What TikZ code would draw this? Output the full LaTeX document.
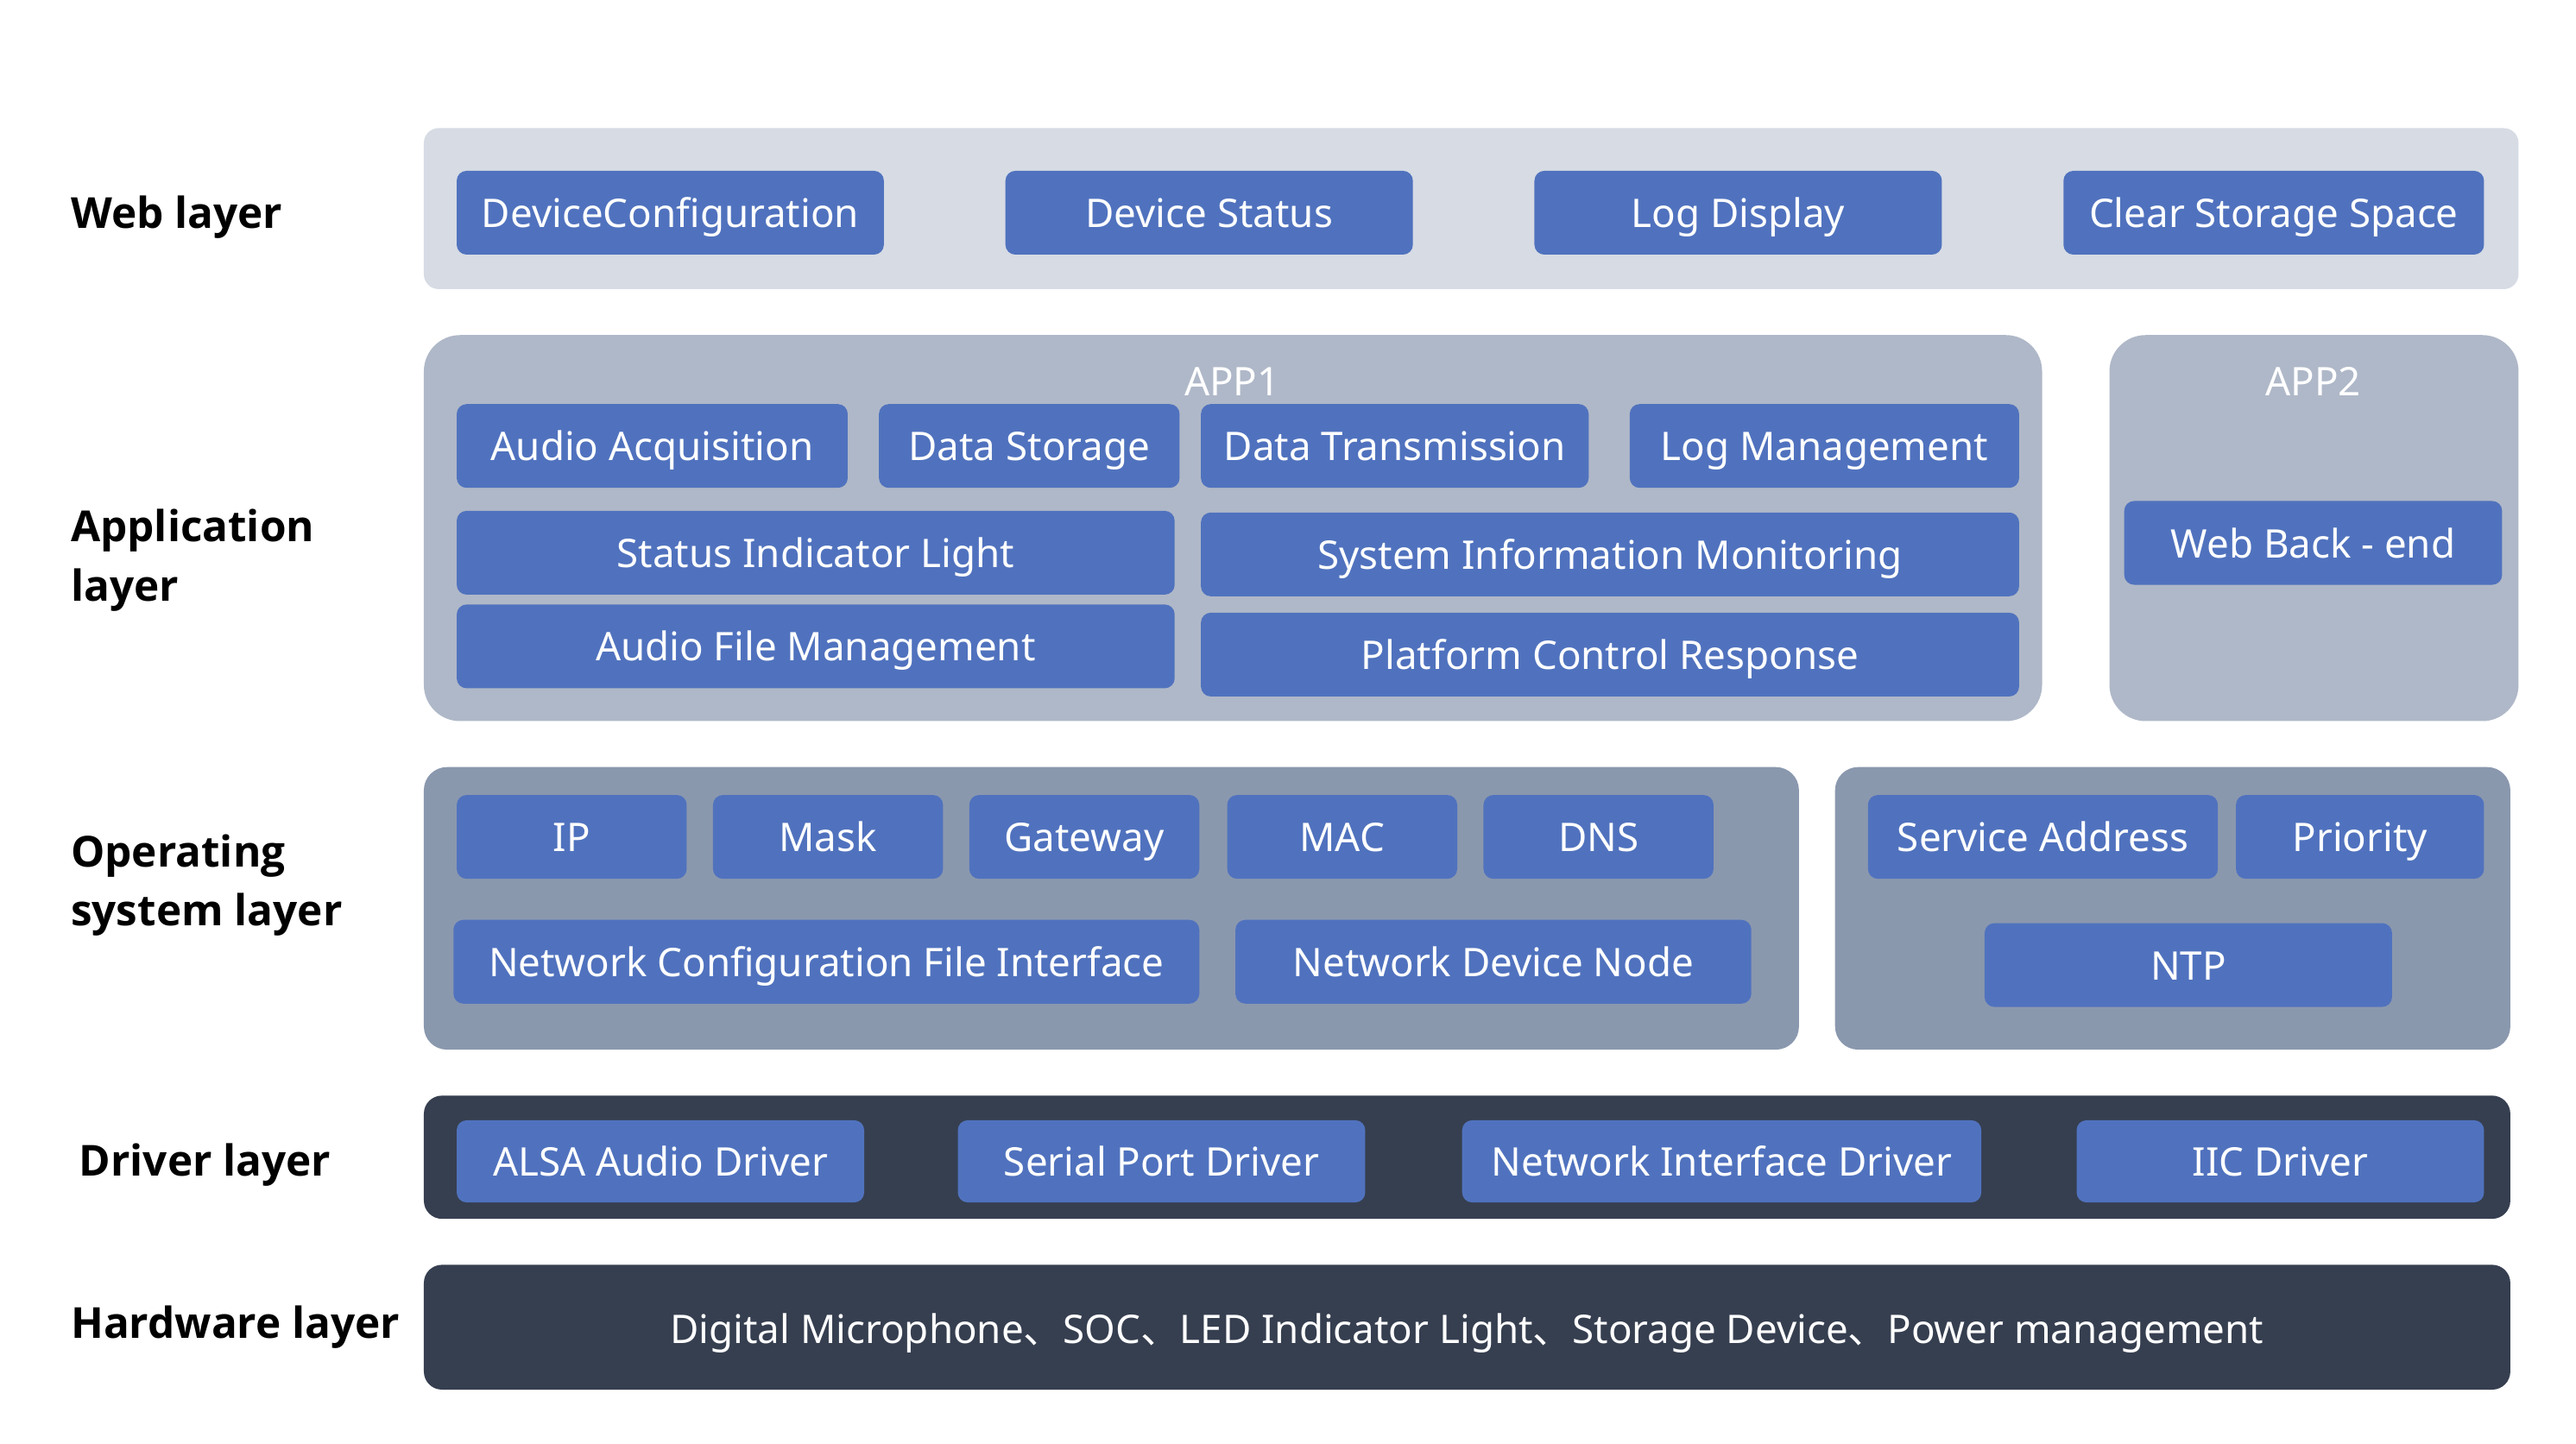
\documentclass[tikz,border=0pt]{standalone}
\usepackage{fontspec}
\setmainfont{Noto Sans}
\newfontfamily\lblfont{Open Sans}
\newfontfamily\cjk{Noto Sans CJK SC}
\definecolor{boxblue}{RGB}{80,114,190}
\definecolor{webbg}{RGB}{214,219,228}
\definecolor{appbg}{RGB}{175,184,200}
\definecolor{osbg}{RGB}{138,152,174}
\definecolor{darkbg}{RGB}{54,63,80}
\newcommand{\dun}{{\cjk 、}}

\begin{document}
\begin{tikzpicture}[x=1pt,y=-1pt,
	panel/.style={rectangle,inner sep=0pt},
	item/.style={rectangle,fill=boxblue,rounded corners=6pt,text=white,inner sep=0pt,
		minimum height=51pt,text height=20pt,text depth=2pt,font=\fontsize{24}{28}\selectfont},
	applabel/.style={text=white,inner sep=0pt,text height=20pt,text depth=2pt,font=\fontsize{24}{28}\selectfont},
	layer/.style={anchor=west,align=left,inner sep=0pt,font=\lblfont\bfseries\fontsize{26}{36}\selectfont}]

	\useasboundingbox (0,0) rectangle (1568,879);

	% layer names
	\node[layer] (lweb) at (43,132) {Web layer};
	\node[layer] (lapp) at (43,341) {Application\\layer};
	\node[layer] (los)  at (43,539) {Operating\\system layer};
	\node[layer] (ldrv) at (48,709) {Driver layer};
	\node[layer] (lhw)  at (43,808) {Hardware layer};

	% panels
	\node[panel,fill=webbg,rounded corners=9pt,minimum width=1275pt,minimum height=98pt] (webpanel) at (895.5,127) {};
	\node[panel,fill=appbg,rounded corners=22pt,minimum width=985pt,minimum height=235pt] (app1panel) at (750.5,321.5) {};
	\node[panel,fill=appbg,rounded corners=22pt,minimum width=249pt,minimum height=235pt] (app2panel) at (1408.5,321.5) {};
	\node[panel,fill=osbg,rounded corners=14pt,minimum width=837pt,minimum height=172pt] (os1panel) at (676.5,553) {};
	\node[panel,fill=osbg,rounded corners=14pt,minimum width=411pt,minimum height=172pt] (os2panel) at (1322.5,553) {};
	\node[panel,fill=darkbg,rounded corners=11pt,minimum width=1270pt,minimum height=75pt] (drvpanel) at (893,704.5) {};
	\node[panel,fill=darkbg,rounded corners=11pt,minimum width=1270pt,minimum height=76pt] (hwpanel) at (893,808) {};

	% web layer
	\node[item,minimum width=260pt] (devconf) at (408,129.5) {DeviceConfiguration};
	\node[item,minimum width=248pt] (devstat) at (736,129.5) {Device Status};
	\node[item,minimum width=248pt] (logdisp) at (1058,129.5) {Log Display};
	\node[item,minimum width=256pt] (clrstor) at (1384,129.5) {Clear Storage Space};

	% application layer
	\node[applabel] (app1) at (750,232) {APP1};
	\node[applabel] (app2) at (1408,232) {APP2};
	\node[item,minimum width=238pt] (audacq) at (397,271.5) {Audio Acquisition};
	\node[item,minimum width=183pt] (datstor) at (626.5,271.5) {Data Storage};
	\node[item,minimum width=236pt] (dattran) at (849,271.5) {Data Transmission};
	\node[item,minimum width=237pt] (logman) at (1110.5,271.5) {Log Management};
	\node[item,minimum width=437pt] (statled) at (496.5,336.5) {Status Indicator Light};
	\node[item,minimum width=498pt] (sysmon) at (980,337.5) {System Information Monitoring};
	\node[item,minimum width=437pt] (audfile) at (496.5,393.5) {Audio File Management};
	\node[item,minimum width=498pt] (platctl) at (980,398.5) {Platform Control Response};
	\node[item,minimum width=230pt] (webback) at (1408,330.5) {Web Back - end};

	% operating system layer
	\node[item,minimum width=140pt] (ip) at (348,509.5) {IP};
	\node[item,minimum width=140pt] (mask) at (504,509.5) {Mask};
	\node[item,minimum width=140pt] (gw) at (660,509.5) {Gateway};
	\node[item,minimum width=140pt] (mac) at (817,509.5) {MAC};
	\node[item,minimum width=140pt] (dns) at (973,509.5) {DNS};
	\node[item,minimum width=454pt] (netcfg) at (503,585.5) {Network Configuration File Interface};
	\node[item,minimum width=314pt] (netnode) at (909,585.5) {Network Device Node};
	\node[item,minimum width=213pt] (srvaddr) at (1243.5,509.5) {Service Address};
	\node[item,minimum width=151pt] (prio) at (1436.5,509.5) {Priority};
	\node[item,minimum width=248pt] (ntp) at (1332,587.5) {NTP};

	% driver layer
	\node[item,minimum width=248pt,minimum height=50pt] (alsa) at (402,707) {ALSA Audio Driver};
	\node[item,minimum width=248pt,minimum height=50pt] (serial) at (707,707) {Serial Port Driver};
	\node[item,minimum width=316pt,minimum height=50pt] (netdrv) at (1048,707) {Network Interface Driver};
	\node[item,minimum width=248pt,minimum height=50pt] (iic) at (1388,707) {IIC Driver};

	% hardware layer
	\node[applabel] (hwtext) at (893,809) {Digital Microphone\dun SOC\dun LED Indicator Light\dun Storage Device\dun Power management};

\end{tikzpicture}
\end{document}
